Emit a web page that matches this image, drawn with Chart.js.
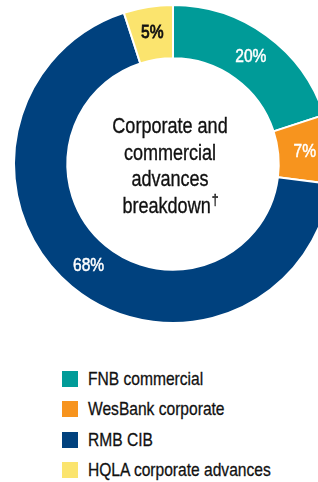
<!DOCTYPE html>
<html>
<head>
<meta charset="utf-8">
<script src="https://cdn.jsdelivr.net/npm/chart.js@4"></script>
<style>
  html, body { margin: 0; padding: 0; background: #fff; overflow: hidden; }
  body { width: 318px; height: 482px; position: relative; font-family: "Liberation Sans", Arial, sans-serif; }
  #wrap { position: absolute; left: 0; top: 0; width: 346px; height: 330px; }
  #legend { position: absolute; left: 62px; top: 371px; margin: 0; padding: 0; list-style: none; }
  #legend li { height: 30.3px; display: flex; align-items: flex-start; font-size: 19px; color: #111; }
  #legend span.box { width: 16px; height: 16px; margin-right: 10px; flex: none; }
  #legend span.txt { line-height: 16px; display: inline-block; transform: scaleX(0.82); transform-origin: 0 50%; white-space: nowrap; -webkit-text-stroke: 0.3px #111; }
</style>
</head>
<body>
<div id="wrap"><canvas id="chartMix" width="346" height="330"></canvas></div>
<ul id="legend"></ul>
<script>
// data
const categories = ['FNB commercial', 'WesBank corporate', 'RMB CIB', 'HQLA corporate advances'];
const shares = [20, 7, 68, 5];
const colours = ['#009B98', '#F7941E', '#00417E', '#FBE46E'];
const labelColours = ['#fff', '#fff', '#fff', '#111'];
const centreLines = ['Corporate and', 'commercial', 'advances', 'breakdown'];

const FONT = '"Liberation Sans", Arial, sans-serif';
const NARROW = 0.82; // squeeze to look like a narrow face

// draw narrow text, align: 'center' | 'left'
function narrowText(ctx, t, x, y, align, stroke) {
  ctx.save();
  ctx.translate(x, y);
  ctx.scale(NARROW, 1);
  ctx.textAlign = align;
  ctx.fillText(t, 0, 0);
  if (stroke) {
    ctx.strokeStyle = ctx.fillStyle;
    ctx.lineWidth = stroke;
    ctx.strokeText(t, 0, 0);
  }
  ctx.restore();
}

// percentage labels on the arcs + centre title
const labelPlugin = {
  id: 'labelPlugin',
  afterDatasetsDraw(chart) {
    const ctx = chart.ctx;
    const meta = chart.getDatasetMeta(0);
    ctx.save();
    ctx.font = '19px ' + FONT;
    ctx.textBaseline = 'middle';
    meta.data.forEach((arc, i) => {
      const p = arc.getCenterPoint();
      ctx.fillStyle = labelColours[i];
      narrowText(ctx, shares[i] + '%', p.x, p.y, 'center', i === 3 ? 0.9 : 0.5);
    });

    const cx = meta.data[0].x - 3;
    const cy = meta.data[0].y;
    ctx.fillStyle = '#111';
    const lh = 26.7;
    const y0 = cy - lh * 1.5 + 3;
    centreLines.forEach((t, i) => {
      ctx.font = '22px ' + FONT;
      if (i === centreLines.length - 1) {
        const w = ctx.measureText(t).width * NARROW;
        ctx.font = '15px ' + FONT;
        const dw = ctx.measureText('†').width * NARROW;
        const x = cx - (w + dw) / 2;
        ctx.font = '22px ' + FONT;
        narrowText(ctx, t, x, y0 + lh * i, 'left', 0.35);
        ctx.font = '15px ' + FONT;
        narrowText(ctx, '†', x + w + 1, y0 + lh * i - 6, 'left', 0.35);
      } else {
        narrowText(ctx, t, cx, y0 + lh * i, 'center', 0.35);
      }
    });
    ctx.restore();
  }
};

new Chart('chartMix', {
  type: 'doughnut',
  data: {
    labels: categories,
    datasets: [{
      data: shares,
      backgroundColor: colours,
      borderColor: '#fff',
      borderWidth: 2,
      hoverOffset: 0
    }]
  },
  options: {
    responsive: false,
    animation: false,
    cutout: '66.5%',
    layout: { padding: { left: 13, right: 13, top: 4, bottom: 6 } },
    plugins: {
      legend: { display: false },
      tooltip: { enabled: false }
    }
  },
  plugins: [labelPlugin]
});

// html legend
const ul = document.getElementById('legend');
categories.forEach((c, i) => {
  const li = document.createElement('li');
  li.innerHTML = '<span class="box" style="background:' + colours[i] + '"></span><span class="txt">' + c + '</span>';
  ul.appendChild(li);
});
</script>
</body>
</html>
